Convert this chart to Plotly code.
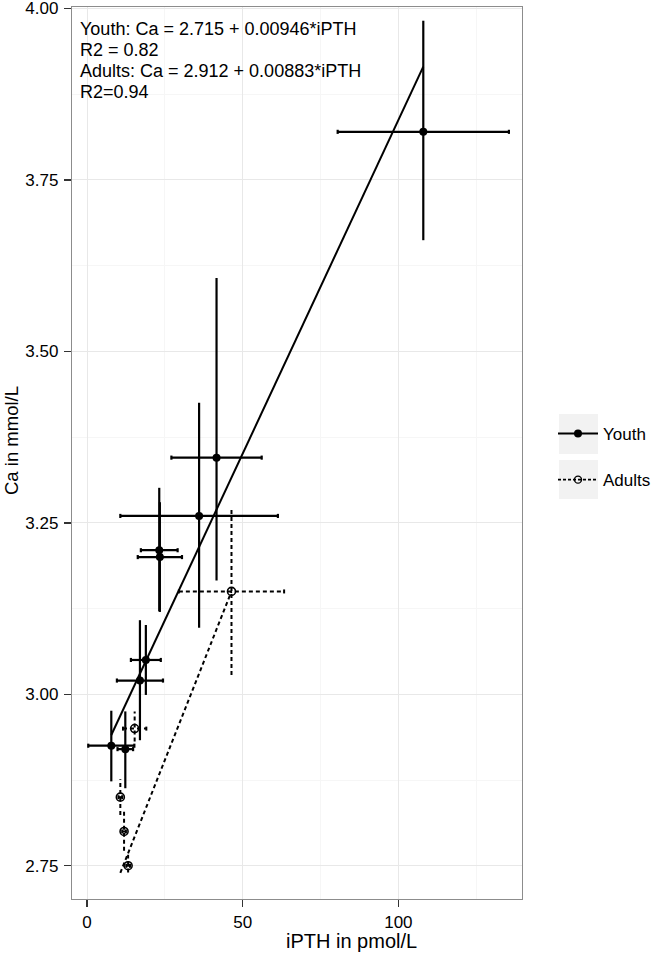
import plotly.graph_objects as go

# ---------------- data ----------------
youth_ipth = [7.8, 12.3, 17.0, 18.9, 23.2, 23.4, 36.0, 41.6, 108.0]
youth_ca = [2.925, 2.920, 3.020, 3.050, 3.210, 3.200, 3.260, 3.345, 3.820]
youth_ipth_err = [7.4, 2.5, 7.4, 4.8, 5.9, 7.1, 25.3, 14.5, 27.5]
youth_ca_lo = [2.873, 2.863, 2.933, 2.999, 3.121, 3.120, 3.097, 3.166, 3.662]
youth_ca_hi = [2.976, 2.975, 3.108, 3.101, 3.301, 3.280, 3.425, 3.607, 3.982]

adult_ipth = [10.7, 11.9, 13.2, 15.3, 46.4]
adult_ca = [2.850, 2.800, 2.750, 2.950, 3.150]
adult_ipth_err = [0.6, 0.6, 0.6, 3.75, 16.9]
adult_ca_lo = [2.824, 2.772, 2.740, 2.931, 3.028]
adult_ca_hi = [2.876, 2.829, 2.766, 2.975, 3.273]

# fitted lines as drawn in the figure (intercept, slope)
youth_fit = (2.8647, 0.009725)
adult_fit = (2.6167, 0.01149)

annotation_lines = [
    "Youth: Ca = 2.715 + 0.00946*iPTH",
    "R2 = 0.82",
    "Adults: Ca = 2.912 + 0.00883*iPTH",
    "R2=0.94",
]

x_ticks = [0, 50, 100]
y_ticks = [2.75, 3.00, 3.25, 3.50, 3.75, 4.00]

FONT = "Liberation Sans, Arial, Helvetica, sans-serif"
CAP = 0.003  # half-height of horizontal error bar caps (y units)


def vbars(xs, lo, hi):
    X, Y = [], []
    for x, a, b in zip(xs, lo, hi):
        X += [x, x, None]
        Y += [a, b, None]
    return X, Y


def hbars(xs, ys, errs):
    X, Y = [], []
    for x, y, e in zip(xs, ys, errs):
        X += [x - e, x + e, None, x - e, x - e, None, x + e, x + e, None]
        Y += [y, y, None, y - CAP, y + CAP, None, y - CAP, y + CAP, None]
    return X, Y


fig = go.Figure()

# ---- youth ----
vx, vy = vbars(youth_ipth, youth_ca_lo, youth_ca_hi)
hx, hy = hbars(youth_ipth, youth_ca, youth_ipth_err)
fig.add_trace(go.Scatter(x=vx + hx, y=vy + hy, mode="lines",
                         line=dict(color="black", width=2.2),
                         showlegend=False, hoverinfo="skip"))
yx = [min(youth_ipth), max(youth_ipth)]
fig.add_trace(go.Scatter(x=yx, y=[youth_fit[0] + youth_fit[1] * v for v in yx],
                         mode="lines", line=dict(color="black", width=2),
                         showlegend=False, hoverinfo="skip"))

# ---- adults ----
vx, vy = vbars(adult_ipth, adult_ca_lo, adult_ca_hi)
hx, hy = hbars(adult_ipth, adult_ca, adult_ipth_err)
fig.add_trace(go.Scatter(x=vx + hx, y=vy + hy, mode="lines",
                         line=dict(color="black", width=2, dash="4px,3px"),
                         showlegend=False, hoverinfo="skip"))
ax = [min(adult_ipth), max(adult_ipth)]
fig.add_trace(go.Scatter(x=ax, y=[adult_fit[0] + adult_fit[1] * v for v in ax],
                         mode="lines", line=dict(color="black", width=2, dash="4px,3px"),
                         showlegend=False, hoverinfo="skip"))

# ---- points ----
fig.add_trace(go.Scatter(x=youth_ipth, y=youth_ca, mode="markers",
                         marker=dict(symbol="circle", size=8, color="black"),
                         showlegend=False))
fig.add_trace(go.Scatter(x=adult_ipth, y=adult_ca, mode="markers",
                         marker=dict(symbol="circle-open", size=8, color="black",
                                     line=dict(width=1.6, color="black")),
                         showlegend=False))

# ---- legend entries ----
fig.add_trace(go.Scatter(x=[None], y=[None], mode="lines+markers", name="Youth",
                         legendgroup="a",
                         line=dict(color="black", width=2),
                         marker=dict(symbol="circle", size=8, color="black")))
fig.add_trace(go.Scatter(x=[None], y=[None], mode="lines+markers", name="Adults",
                         legendgroup="b",
                         line=dict(color="black", width=1.6, dash="3px,2px"),
                         marker=dict(symbol="circle-open", size=7, color="black",
                                     line=dict(width=1.4, color="black"))))

L, R, T, B = 72, 134, 7, 56
W, H = 656, 955
pw, ph = W - L - R, H - T - B


def px2paper_x(p):
    return (p - L) / pw


def px2paper_y(p):
    return 1 - (p - T) / ph


shapes = []
for (y0, y1) in [(414, 454), (460, 499)]:
    shapes.append(dict(type="rect", xref="paper", yref="paper",
                       x0=px2paper_x(559), x1=px2paper_x(598),
                       y0=px2paper_y(y1), y1=px2paper_y(y0),
                       fillcolor="#F2F2F2", line=dict(width=0), layer="below"))

annots = []
for i, line in enumerate(annotation_lines):
    annots.append(dict(text=line, xref="paper", yref="paper",
                       x=px2paper_x(78), y=px2paper_y(29 + 21 * i),
                       xanchor="left", yanchor="middle", align="left", showarrow=False,
                       font=dict(size=18, family=FONT, color="black")))
annots.append(dict(text="iPTH in pmol/L", xref="paper", yref="paper",
                   x=px2paper_x(351), y=px2paper_y(941), xanchor="center", yanchor="middle",
                   showarrow=False, font=dict(size=20, family=FONT, color="black")))
annots.append(dict(text="Ca in mmol/L", xref="paper", yref="paper", textangle=-90,
                   x=px2paper_x(12), y=px2paper_y(441), xanchor="center", yanchor="middle",
                   showarrow=False, font=dict(size=18.5, family=FONT, color="black")))

fig.update_layout(
    width=W, height=H,
    margin=dict(l=L, r=R, t=T, b=B, autoexpand=False),
    paper_bgcolor="white", plot_bgcolor="white",
    font=dict(family=FONT, color="black", size=16),
    shapes=shapes,
    showlegend=True,
    legend=dict(x=px2paper_x(553), y=px2paper_y(457), xanchor="left", yanchor="middle",
                bgcolor="rgba(0,0,0,0)", font=dict(size=17, family=FONT),
                tracegroupgap=21, itemwidth=40),
    annotations=annots,
)

fig.update_xaxes(range=[-4.82, 139.7], tickvals=x_ticks, ticks="outside", ticklen=7,
                 tickcolor="#333333", tickwidth=1.5, automargin=False,
                 ticklabeloverflow="allow",
                 showgrid=True, gridcolor="#E8E8E8", gridwidth=1,
                 minor=dict(dtick=25, tick0=0, showgrid=True, gridcolor="#F6F6F6", gridwidth=1),
                 zeroline=False, showline=True, linecolor="#8C8C8C", linewidth=1.2, mirror=True,
                 tickfont=dict(size=17, color="black"))
fig.update_yaxes(range=[2.7015, 4.002], tickvals=y_ticks, tickformat=".2f",
                 ticks="outside", ticklen=7, tickcolor="#333333", tickwidth=1.5,
                 automargin=False, ticklabeloverflow="allow", ticklabelstandoff=2,
                 showgrid=True, gridcolor="#E8E8E8", gridwidth=1,
                 minor=dict(dtick=0.125, tick0=2.75, showgrid=True, gridcolor="#F6F6F6", gridwidth=1),
                 zeroline=False, showline=True, linecolor="#8C8C8C", linewidth=1.2, mirror=True,
                 tickfont=dict(size=17, color="black"))

fig.write_html("out.html", config={"displayModeBar": False, "staticPlot": True},
               post_script="document.body.style.margin='0px';")
